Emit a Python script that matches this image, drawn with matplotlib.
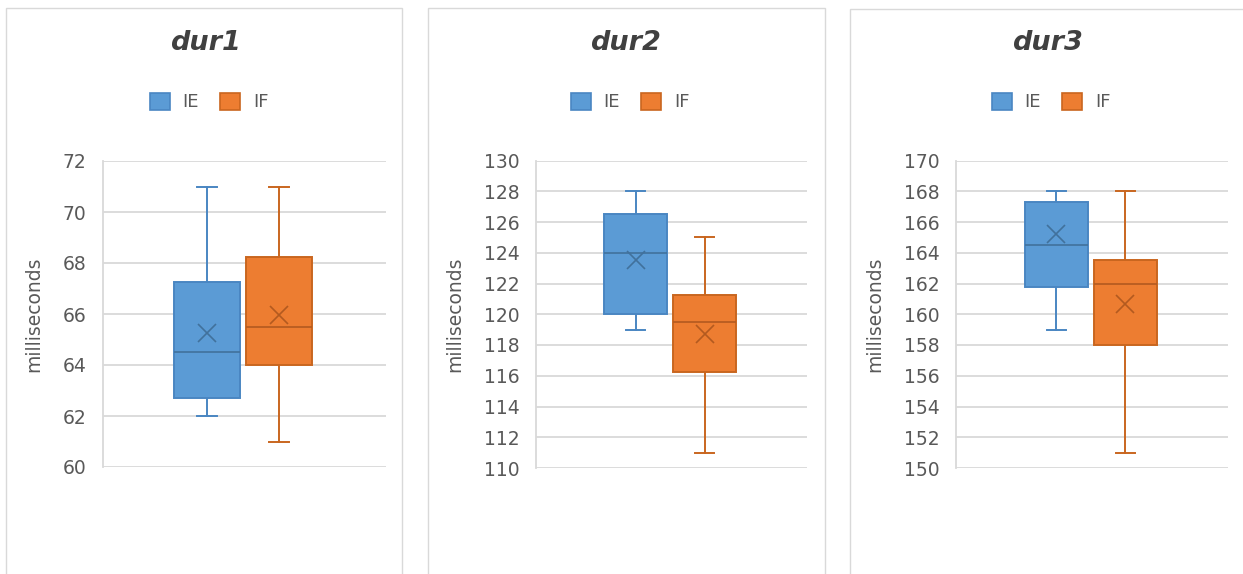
import matplotlib
matplotlib.use("Agg")
import matplotlib.pyplot as plt
from matplotlib.patches import Patch, Rectangle

# summary values: [IE, IF]
titles = ["dur1", "dur2", "dur3"]
groups = ["IE", "IF"]
whis_low = [[62, 61], [119, 111], [159, 151]]
q1 = [[62.7, 64.0], [120.0, 116.25], [161.75, 158.0]]
median = [[64.5, 65.5], [124.0, 119.5], [164.5, 162.0]]
q3 = [[67.25, 68.25], [126.5, 121.25], [167.3, 163.5]]
whis_high = [[71, 71], [128, 125], [168, 168]]
means = [[65.25, 65.95], [123.5, 118.7], [165.25, 160.65]]
ylims = [(60, 72), (110, 130), (150, 170)]
ysteps = [2, 2, 2]

fill = ["#5B9BD5", "#ED7D31"]
edge = ["#4A86C2", "#C9661F"]
mark = ["#41719C", "#B35A1F"]
grid = "#D9D9D9"
txt = "#595959"

W, H = 1243, 574
fig = plt.figure(figsize=(W / 100, H / 100), dpi=100)

# panel frames (px): left, top, right
frames = [(6, 8, 402), (428, 8, 825), (850, 9, 1250)]
# axes boxes (px): left, right, top, bottom
axbox = [(103, 386, 161, 467), (536, 807, 160.5, 468), (956, 1228, 160.5, 468)]
title_x = [205, 625, 1047]
legend_x = [209, 630, 1051]

for i in range(3):
    l, t, r = frames[i]
    fig.patches.append(Rectangle((l / W, -0.02), (r - l) / W, 1 - t / H + 0.02,
                                 transform=fig.transFigure, fill=False,
                                 edgecolor="#D9D9D9", linewidth=1.0))

    al, ar, at, ab = axbox[i]
    ax = fig.add_axes([al / W, 1 - ab / H, (ar - al) / W, (ab - at) / H])

    stats = []
    for j in range(2):
        stats.append(dict(med=median[i][j], q1=q1[i][j], q3=q3[i][j],
                          whislo=whis_low[i][j], whishi=whis_high[i][j],
                          mean=means[i][j], fliers=[], label=groups[j]))

    for j in range(2):
        ax.bxp([stats[j]], positions=[[0.368, 0.622][j]], widths=0.232,
               capwidths=0.07, patch_artist=True, showmeans=True,
               boxprops=dict(facecolor=fill[j], edgecolor=edge[j], linewidth=1.4),
               whiskerprops=dict(color=edge[j], linewidth=1.4),
               capprops=dict(color=edge[j], linewidth=1.4),
               medianprops=dict(color=mark[j], linewidth=1.2),
               meanprops=dict(marker="x", markeredgecolor=mark[j],
                              markersize=13, markeredgewidth=1.2))

    lo, hi = ylims[i]
    ax.set_xlim(0, 1)
    ax.set_ylim(lo, hi)
    ax.set_yticks(range(lo, hi + 1, ysteps[i]))
    ax.set_xticks([])
    ax.yaxis.grid(True, color=grid, linewidth=1.3)
    ax.set_axisbelow(True)
    for s in ["top", "right", "bottom"]:
        ax.spines[s].set_visible(False)
    ax.spines["left"].set_color(grid)
    ax.spines["left"].set_linewidth(1.3)
    ax.tick_params(axis="y", length=0, pad=12, labelsize=13.5, labelcolor=txt)
    ax.set_ylabel("milliseconds", fontsize=13.5, color=txt, labelpad=14)

    fig.text(title_x[i] / W, 1 - 43 / H, titles[i], ha="center", va="center",
             fontsize=19.5, fontweight="bold", fontstyle="italic", color="#404040")

    handles = [Patch(facecolor=fill[j], edgecolor=edge[j], linewidth=1.2, label=groups[j])
               for j in range(2)]
    fig.legend(handles=handles, loc="center", ncol=2,
               bbox_to_anchor=(legend_x[i] / W, 1 - 102 / H), frameon=False,
               fontsize=13, labelcolor=txt, handlelength=1.1, handleheight=1.1,
               handletextpad=0.7, columnspacing=1.2, borderaxespad=0)

fig.savefig("out.png", dpi=100, facecolor="white")
